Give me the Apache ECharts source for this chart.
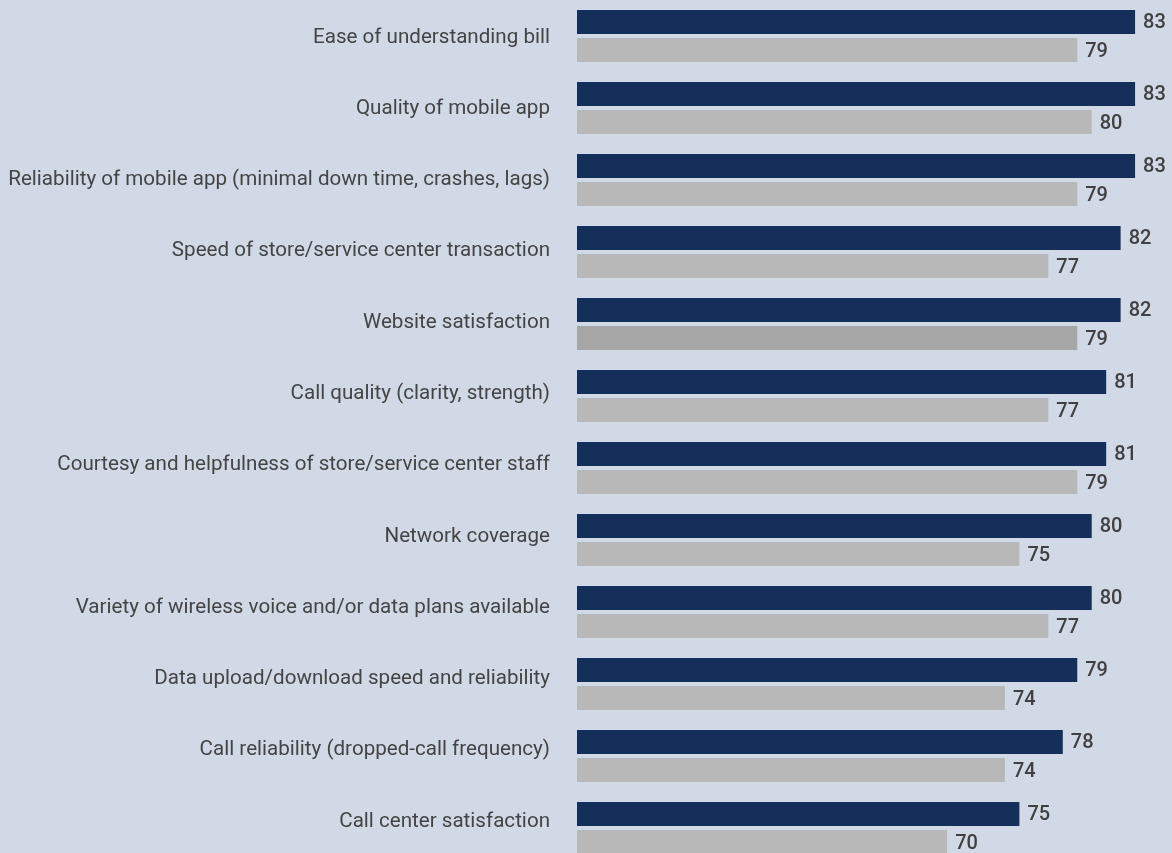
<!DOCTYPE html>
<html>
<head>
<meta charset="utf-8">
<script src="https://cdn.jsdelivr.net/npm/echarts@6/dist/echarts.min.js"></script>
<style>
html,body{margin:0;padding:0;background:#d1d9e6;overflow:hidden;}
#chart{width:1172px;height:880px;}
</style>
</head>
<body>
<div id="chart"></div>
<script>
const categories = [
  "Ease of understanding bill",
  "Quality of mobile app",
  "Reliability of mobile app (minimal down time, crashes, lags)",
  "Speed of store/service center transaction",
  "Website satisfaction",
  "Call quality (clarity, strength)",
  "Courtesy and helpfulness of store/service center staff",
  "Network coverage",
  "Variety of wireless voice and/or data plans available",
  "Data upload/download speed and reliability",
  "Call reliability (dropped-call frequency)",
  "Call center satisfaction"
];
const navyValues = [83, 83, 83, 82, 82, 81, 81, 80, 80, 79, 78, 75];
const greyValues = [79, 80, 79, 77, 79, 77, 79, 75, 77, 74, 74, 70];

const chart = echarts.init(document.getElementById('chart'));
const valueLabel = {
  show: true, position: 'right', distance: 8, offset: [0, 1.5],
  fontFamily: 'Roboto', fontSize: 20, fontWeight: 500, color: '#404040'
};
chart.setOption({
  backgroundColor: '#d1d9e6',
  animation: false,
  grid: [
    { left: 577, top: 0, width: 587, height: 864 },
    { left: 577, top: 1.8, width: 10, height: 855.3 }
  ],
  xAxis: [
    { gridIndex: 0, type: 'value', min: 44.4, max: 85, show: false },
    { gridIndex: 1, type: 'value', min: 0, max: 1, show: false }
  ],
  yAxis: [
    { gridIndex: 0, type: 'category', data: categories, inverse: true,
      axisLine: { show: false }, axisTick: { show: false }, axisLabel: { show: false }, splitLine: { show: false } },
    { gridIndex: 1, type: 'category', data: categories, inverse: true,
      axisLine: { show: false }, axisTick: { show: false }, splitLine: { show: false },
      axisLabel: { show: true, margin: 27, fontFamily: 'Roboto', fontSize: 20.6, color: '#444444' } }
  ],
  series: [
    { type: 'bar', xAxisIndex: 0, yAxisIndex: 0, data: navyValues, barWidth: 24, barGap: '16.7%',
      itemStyle: { color: '#14305a' }, label: valueLabel },
    { type: 'bar', xAxisIndex: 0, yAxisIndex: 0,
      data: greyValues.map((v, i) => i === 4 ? { value: v, itemStyle: { color: '#a6a6a6' } } : v),
      barWidth: 24, itemStyle: { color: '#b8b8b8' }, label: valueLabel }
  ]
});
</script>
</body>
</html>
